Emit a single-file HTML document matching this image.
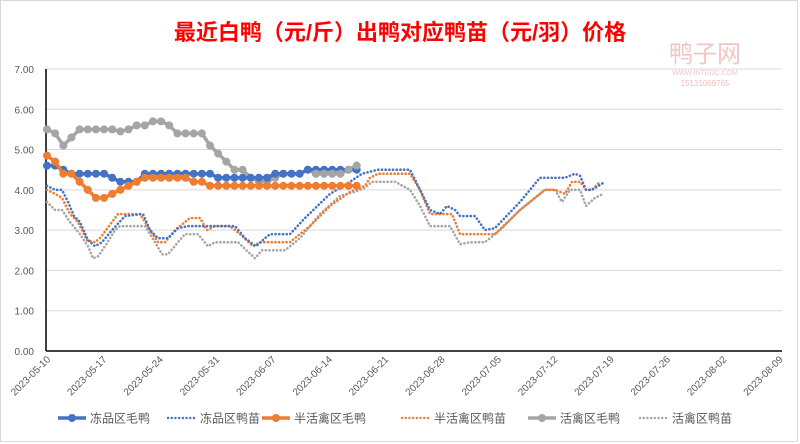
<!DOCTYPE html>
<html><head><meta charset="utf-8"><style>
body{margin:0;background:#fff;}
svg{display:block;font-family:"Liberation Sans","Noto Sans CJK SC",sans-serif;}
</style></head><body>
<svg id="s" width="800" height="444" viewBox="0 0 800 444" xmlns="http://www.w3.org/2000/svg">
<rect x="0.5" y="0.5" width="797" height="441" fill="#fff" stroke="#d9d9d9"/>
<text x="400" y="40" text-anchor="middle" font-size="22" font-weight="bold" fill="#ff0000">最近白鸭（元/斤）出鸭对应鸭苗（元/羽）价格</text>
<text x="705" y="62" text-anchor="middle" font-size="24" fill="#f3c4c4">鸭子网</text>
<text x="705" y="75" text-anchor="middle" font-size="7" fill="#f0c8c8">WWW.INTEDC.COM</text>
<text x="705" y="86" text-anchor="middle" font-size="8" fill="#f0c0c0">15131069765</text>
<g id="grid"></g>
<g id="series"></g>
<g id="legend" font-size="12" fill="#595959"></g>
</svg>
<script>
const NS="http://www.w3.org/2000/svg";
function el(p,t,a,txt){const e=document.createElementNS(NS,t);for(const k in a)e.setAttribute(k,a[k]);if(txt!==undefined)e.textContent=txt;p.appendChild(e);return e;}
const Y=v=>351-40.29*v, X=d=>47+8.05*d;
const g=document.getElementById('grid');
for(let i=0;i<=7;i++){const y=Y(i);if(i>0)el(g,'line',{x1:46,x2:782,y1:y,y2:y,stroke:'#d9d9d9','stroke-width':1});
el(g,'text',{x:34,y:y+4,'text-anchor':'end','font-size':10,fill:'#595959'},i.toFixed(2));}
el(g,'line',{x1:46,x2:782,y1:351,y2:351,stroke:'#000','stroke-width':1.5});
el(g,'line',{x1:46,x2:46,y1:69,y2:351,stroke:'#000','stroke-width':1.5});
const dates=['2023-05-10','2023-05-17','2023-05-24','2023-05-31','2023-06-07','2023-06-14','2023-06-21','2023-06-28','2023-07-05','2023-07-12','2023-07-19','2023-07-26','2023-08-02','2023-08-09'];
dates.forEach((d,i)=>{const x=X(i*7)+4,y=360;el(g,'text',{x:x,y:y,'text-anchor':'end','font-size':10,fill:'#595959',transform:`rotate(-45 ${x} ${y})`},d);});
const s=document.getElementById('series');
function solid(vals,c){const pts=vals.map((v,k)=>[47+8.15*k,Y(v)]);
el(s,'polyline',{points:pts.map(p=>p.join(',')).join(' '),fill:'none',stroke:c,'stroke-width':3.5,'stroke-linejoin':'round'});
pts.forEach(p=>el(s,'circle',{cx:p[0],cy:p[1],r:4,fill:c}));}
function dotted(kp,c){el(s,'polyline',{points:kp.map(p=>p[0]+','+Y(p[1])).join(' '),fill:'none',stroke:c,'stroke-width':2.6,'stroke-dasharray':'0.1 3.6','stroke-linecap':'round','stroke-linejoin':'round'});}
dotted([[47,3.7],[55,3.5],[62,3.5],[70,3.2],[80,2.9],[88,2.6],[93,2.3],[98,2.35],[105,2.6],[115,3.0],[120,3.1],[145,3.1],[155,2.7],[162,2.4],[168,2.4],[178,2.7],[185,2.9],[198,2.9],[208,2.6],[215,2.7],[238,2.7],[255,2.3],[262,2.5],[285,2.5],[300,2.8],[320,3.4],[340,3.85],[355,3.95],[365,4.05],[372,4.2],[395,4.2],[410,4.0],[420,3.6],[430,3.1],[450,3.1],[460,2.65],[470,2.7],[485,2.7],[500,3.0],[520,3.5],[545,4.0],[555,4.0],[562,3.7],[570,4.0],[580,4.0],[586,3.6],[595,3.8],[603,3.9]],'#a6a6a6');
dotted([[47,4.0],[55,3.9],[62,3.8],[70,3.4],[78,3.2],[87,2.75],[95,2.7],[100,2.8],[112,3.2],[118,3.4],[140,3.4],[150,3.0],[158,2.7],[165,2.7],[175,3.0],[190,3.3],[200,3.3],[207,3.0],[215,3.1],[230,3.1],[240,2.9],[253,2.6],[260,2.7],[290,2.7],[310,3.1],[330,3.6],[350,3.95],[365,4.1],[370,4.3],[378,4.4],[410,4.4],[420,4.0],[430,3.4],[452,3.4],[460,2.9],[495,2.9],[520,3.5],[545,4.0],[555,4.0],[565,3.9],[572,4.2],[580,4.2],[586,4.0],[592,4.0],[600,4.2]],'#ed7d31');
dotted([[47,4.1],[55,4.0],[62,4.0],[68,3.7],[74,3.35],[80,3.2],[88,2.75],[95,2.6],[102,2.7],[112,3.0],[125,3.35],[143,3.4],[150,3.0],[158,2.8],[168,2.8],[178,3.05],[188,3.1],[235,3.1],[245,2.8],[256,2.6],[265,2.8],[270,2.9],[290,2.9],[305,3.3],[330,3.9],[350,4.2],[362,4.4],[378,4.5],[410,4.5],[420,4.0],[430,3.5],[440,3.4],[447,3.6],[455,3.5],[460,3.35],[475,3.35],[485,3.0],[495,3.05],[520,3.7],[540,4.3],[565,4.3],[575,4.4],[580,4.35],[586,4.0],[592,4.0],[605,4.2]],'#4472c4');
solid([5.5,5.4,5.1,5.3,5.5,5.5,5.5,5.5,5.5,5.45,5.5,5.6,5.6,5.7,5.7,5.6,5.4,5.4,5.4,5.4,5.1,4.9,4.7,4.5,4.5,4.3,4.2,4.2,4.3,4.4,4.4,4.4,4.5,4.4,4.4,4.4,4.4,4.5,4.6],'#a5a5a5');
solid([4.6,4.6,4.5,4.4,4.4,4.4,4.4,4.4,4.3,4.2,4.2,4.2,4.4,4.4,4.4,4.4,4.4,4.4,4.4,4.4,4.4,4.3,4.3,4.3,4.3,4.3,4.3,4.3,4.4,4.4,4.4,4.4,4.5,4.5,4.5,4.5,4.5,4.5,4.5],'#4472c4');
solid([4.85,4.7,4.4,4.4,4.2,4.0,3.8,3.8,3.9,4.0,4.1,4.2,4.3,4.3,4.3,4.3,4.3,4.3,4.2,4.2,4.1,4.1,4.1,4.1,4.1,4.1,4.1,4.1,4.1,4.1,4.1,4.1,4.1,4.1,4.1,4.1,4.1,4.1,4.1],'#ed7d31');
(function(){const c='#a5a5a5';[[33,4.4],[34,4.4],[35,4.4],[36,4.4],[37,4.5],[38,4.6]].forEach(([k,v])=>el(s,'circle',{cx:47+8.15*k,cy:Y(v),r:4,fill:c}));})();
const L=document.getElementById('legend');
const items=[[58,'#4472c4',1,'冻品区毛鸭'],[168,'#4472c4',0,'冻品区鸭苗'],[262,'#ed7d31',1,'半活禽区毛鸭'],[402,'#ed7d31',0,'半活禽区鸭苗'],[528,'#a5a5a5',1,'活禽区毛鸭'],[640,'#a5a5a5',0,'活禽区鸭苗']];
items.forEach(([x,c,sol,t])=>{const y=418;
if(sol){el(L,'line',{x1:x,x2:x+28,y1:y,y2:y,stroke:c,'stroke-width':3.5});el(L,'circle',{cx:x+14,cy:y,r:4,fill:c});}
else el(L,'line',{x1:x,x2:x+28,y1:y,y2:y,stroke:c,'stroke-width':2.4,'stroke-dasharray':'0.1 3.6','stroke-linecap':'round'});
el(L,'text',{x:x+32,y:y+4.5},t);});
</script>
</body></html>
